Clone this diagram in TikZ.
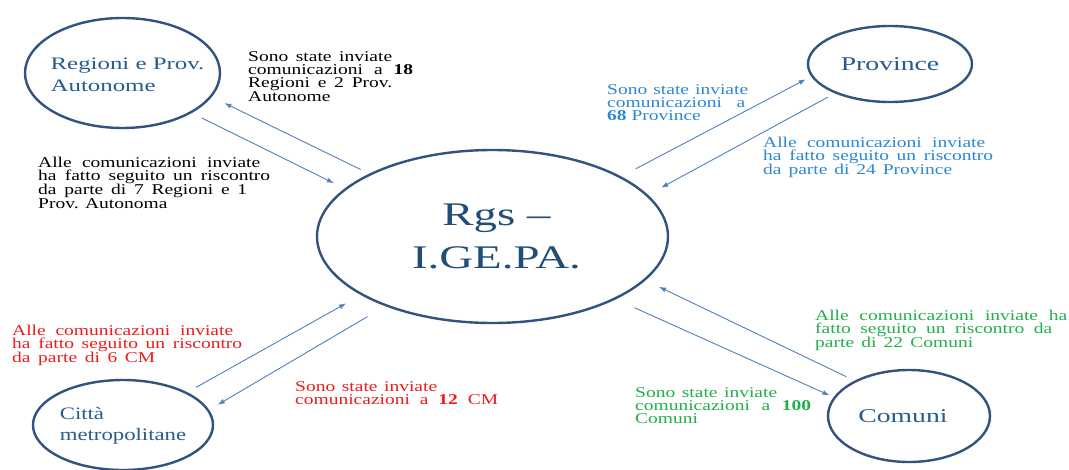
\documentclass[tikz,border=0pt]{standalone}
\usepackage{fontspec}
\setmainfont{Liberation Serif}[FakeStretch=1.42]
\newfontfamily\notefont{Liberation Serif}[FakeStretch=1.3]
\newfontfamily\cittafont{Liberation Serif}[FakeStretch=1.3]
\usetikzlibrary{shapes.geometric,arrows.meta}
\definecolor{ellborder}{RGB}{50,82,128}
\definecolor{labelblue}{RGB}{38,92,142}
\definecolor{centerblue}{RGB}{31,78,121}
\definecolor{arrowblue}{RGB}{79,129,189}
\definecolor{txtblue}{RGB}{45,135,212}
\definecolor{txtred}{RGB}{238,28,28}
\definecolor{txtgreen}{RGB}{36,175,76}
\newcommand{\jl}[2]{\makebox[#1pt][s]{#2}}
\begin{document}
\begin{tikzpicture}[x=1pt,y=-1pt,
  ell/.style={ellipse, draw=ellborder, line width=2.4pt, inner sep=0pt, text=labelblue},
  elllabel/.style={inner sep=0pt, text=labelblue, align=left},
  arr/.style={draw=arrowblue, line width=0.9pt, -{Latex[length=7pt,width=5pt]}},
  note/.style={anchor=north west, inner sep=0pt, align=left, font=\notefont\fontsize{15}{13}\selectfont}]
\fill[white] (0,0) rectangle (1069,469);
\useasboundingbox (0,0) rectangle (1069,469);

% ellipses
\node[ell, minimum width=351pt, minimum height=173pt, text=centerblue, align=center,
  font=\fontsize{33}{43}\selectfont] (cen) at (492.5,236.5) {\hspace*{8pt}Rgs --\\\hspace*{8pt}I.GE.PA.};
\node[ell, minimum width=195pt, minimum height=110pt,
  label={[elllabel, xshift=5pt, yshift=-2pt, font=\fontsize{17.5}{22}\selectfont]center:Regioni e Prov.\\Autonome}] (reg) at (122.5,73) {};
\node[ell, minimum width=164pt, minimum height=76pt,
  font=\fontsize{19.5}{22}\selectfont] (prov) at (890,64) {Province};
\node[ell, minimum width=180pt, minimum height=90pt,
  label={[elllabel, yshift=-1pt, font=\cittafont\fontsize{17.5}{20.5}\selectfont]center:Città\\metropolitane}] (citta) at (123,425) {};
\node[ell, minimum width=162pt, minimum height=92pt,
  font=\fontsize{19.5}{22}\selectfont] (com) at (909,416) {Comuni\hspace*{12pt}};

% arrows
\draw[arr, shorten <=11pt, shorten >=12pt] (reg.-30) -- (cen.162);
\draw[arr, shorten <=9.5pt, shorten >=14pt] (cen.153) -- (reg.-15);
\draw[arr, shorten <=16.5pt, shorten >=6pt] (cen.25) -- (prov.189.6);
\draw[arr, shorten <=8pt, shorten >=15pt] (prov.208.8) -- (cen.15.5);
\draw[arr, shorten <=10pt, shorten >=17pt] (citta.27.2) -- (cen.204.2);
\draw[arr, shorten <=20.5pt, shorten >=10pt] (cen.213.3) -- (citta.10.1);
\draw[arr, shorten <=9pt, shorten >=15pt] (com.147.8) -- (cen.-16.7);
\draw[arr, shorten <=20.5pt, shorten >=4.5pt] (cen.-27) -- (com.166.5);

% texts
\node[note, text=black] (t1) at (248,51.6)
  {\jl{144}{Sono state inviate}\\\jl{165}{comunicazioni a \textbf{18}}\\\jl{144}{Regioni e 2 Prov.}\\Autonome};
\node[note, text=black] (t2) at (38,156.6)
  {\jl{222}{Alle comunicazioni inviate}\\\jl{232}{ha fatto seguito un riscontro}\\\jl{209}{da parte di 7 Regioni e 1}\\Prov. Autonoma};
\node[note, text=txtblue] (t3) at (607,84.6)
  {\jl{141}{Sono state inviate}\\\jl{138}{comunicazioni a}\\\textbf{68} Province};
\node[note, text=txtblue] (t4) at (763,136.6)
  {\jl{222}{Alle comunicazioni inviate}\\\jl{230}{ha fatto seguito un riscontro}\\\jl{189}{da parte di 24 Province}};
\node[note, text=txtred] (t5) at (12,324.6)
  {\jl{221}{Alle comunicazioni inviate}\\\jl{230}{ha fatto seguito un riscontro}\\\jl{143}{da parte di 6 CM}};
\node[note, text=txtred] (t6) at (295,381.6)
  {\jl{142}{Sono state inviate}\\\jl{203}{comunicazioni a \textbf{12} CM}};
\node[note, text=txtgreen] (t7) at (815,309.6)
  {\jl{252}{Alle comunicazioni inviate ha}\\\jl{237}{fatto seguito un riscontro da}\\\jl{158}{parte di 22 Comuni}};
\node[note, text=txtgreen] (t8) at (635,387.6)
  {\jl{142}{Sono state inviate}\\\jl{176}{comunicazioni a \textbf{100}}\\Comuni};
\end{tikzpicture}
\end{document}
